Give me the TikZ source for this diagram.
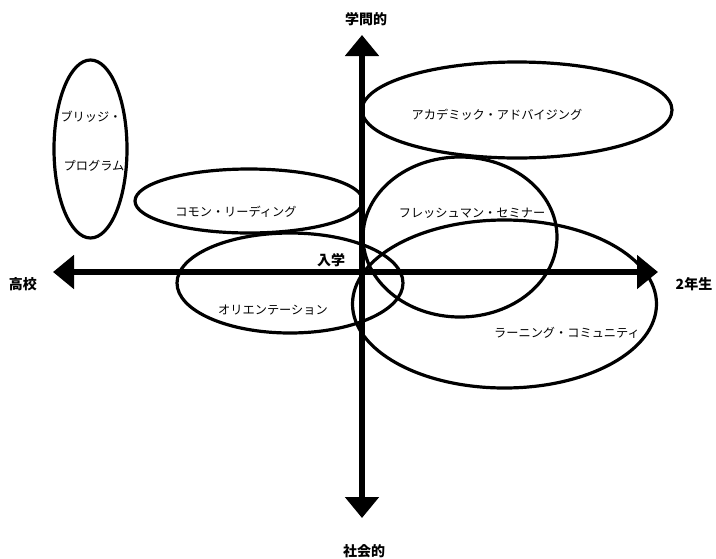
\documentclass[tikz,border=0pt]{standalone}
\usepackage{fontspec}
\newfontfamily\jp{Noto Sans CJK JP}
\usetikzlibrary{arrows.meta}
\begin{document}
\begin{tikzpicture}[x=1pt,y=-1pt,
    circ/.style={draw=black,line width=3.2pt},
    axis/.style={line width=6pt,{Triangle[length=21pt,width=33pt]}-{Triangle[length=21pt,width=33pt]}},
    lbl/.style={font=\jp\fontsize{12.2}{14}\selectfont,inner sep=0pt},
    axlbl/.style={font=\jp\bfseries\fontsize{14}{16}\selectfont,inner sep=0pt}]
    \useasboundingbox (0,0) rectangle (716,558);
    % ellipses
    \draw[circ] (90.5,149) ellipse (36.5 and 89);
    \draw[circ] (517,110) ellipse (155 and 48);
    \draw[circ] (249,201) ellipse (114 and 32);
    \draw[circ] (460,237) ellipse (97 and 80);
    \draw[circ] (290,283) ellipse (113 and 50);
    \draw[circ] (504.5,304) ellipse (152 and 84);
    \node[lbl] (bridge1) at (91,117) {ブリッジ・};
    \node[lbl] (bridge2) at (94,166) {プログラム};
    \node[lbl] (advising) at (497,115) {アカデミック・アドバイジング};
    \node[lbl] (reading) at (236,212) {コモン・リーディング};
    \node[lbl] (seminar) at (472,213) {フレッシュマン・セミナー};
    \node[lbl] (orient) at (273,310) {オリエンテーション};
    \node[lbl] (community) at (567,333) {ラーニング・コミュニティ};
    % axes
    \coordinate (west) at (53,272);
    \coordinate (east) at (658,272);
    \coordinate (north) at (362,35);
    \coordinate (south) at (362,518);
    \draw[axis] (west)--(east);
    \draw[axis] (north)--(south);
    \node[axlbl] (koukou) at (23,284) {高校};
    \node[axlbl] (nensei) at (694,284) {2年生};
    \node[axlbl] (gakumon) at (366,19) {学問的};
    \node[axlbl] (shakai) at (364,551) {社会的};
    \node[axlbl] (nyugaku) at (331,260) {入学};
\end{tikzpicture}
\end{document}
